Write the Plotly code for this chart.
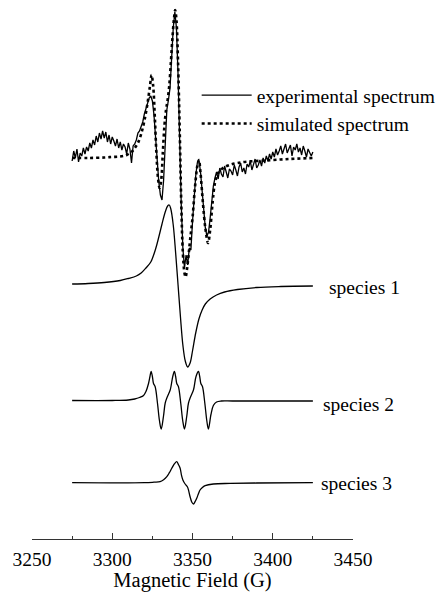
import plotly.graph_objects as go

# ---------------- data (arbitrary intensity units) ----------------
exp_field = list(range(3275, 3426))  # 1 G sampling
exp_signal = [
    -3, 7, 0, 9, -4, 5, 2, 10, 4, 11,
    7, 15, 10, 18, 13, 22, 16, 25, 19, 27,
    20, 26, 16, 23, 14, 21, 17, 12, 19, 10,
    16, 8, 14, 11, 4, 15, 9, -5, 12, 14,
    18, 25, 27, 32, 36, 44, 50, 56, 60, 62,
    57, 43, 20, -4, -24, -37, -42, -22, 13, 48,
    58, 70, 100, 130, 146, 130, 83, 13, -47, -90,
    -110, -97, -107, -90, -92, -64, -40, -18, -5, -2,
    -14, -34, -54, -70, -78, -74, -60, -42, -28, -20,
    -14, -21, -10, -16, -19, -8, -15, -20, -11, -13,
    -17, -7, -12, -18, -9, -5, -14, -10, -16, -6,
    -9, -3, -12, -6, -1, -10, -7, -2, -8, 0,
    -5, 2, -3, 4, -1, 6, 1, 9, 3, 7,
    12, 4, 10, 14, 5, 9, 13, 2, 11, 8,
    14, 6, 10, 3, 12, 7, 1, 9, 5, 2,
    6,
]

sim_field = [
    3275, 3285, 3295, 3300, 3305, 3309, 3312, 3314, 3316, 3318,
    3320, 3322, 3323.5, 3324.5, 3325.5, 3326.5, 3327.5, 3328.5, 3329.5, 3330.5,
    3331.5, 3332.5, 3333.5, 3334.5, 3335.5, 3336.5, 3337.5, 3338.5, 3339.2, 3340,
    3341, 3342, 3343, 3344, 3345, 3345.7, 3346.5, 3347.5, 3348.5, 3350,
    3351.5, 3353, 3354, 3355, 3356.5, 3358, 3359.7, 3361, 3362.5, 3364,
    3366, 3369, 3373, 3378, 3385, 3395, 3410, 3425,
]
sim_signal = [
    0, 0, 0.5, 1, 1.5, 3, 6, 10, 15, 24,
    37, 55, 72, 83, 72, 42, 5, -20, -30, -22,
    5, 32, 48, 58, 72, 95, 120, 140, 148, 138,
    95, 30, -45, -95, -115, -119, -112, -98, -82, -60,
    -30, -8, -2, -15, -45, -70, -85, -72, -45, -25,
    -15, -10, -7, -5, -3.5, -2.5, -1, 0,
]

sp1_field = [
    3275, 3285, 3295, 3305, 3310, 3315, 3318, 3321, 3324, 3327,
    3329, 3331, 3333, 3334.5, 3335.5, 3336.5, 3338, 3339.5, 3341, 3342.5,
    3344, 3345.5, 3347, 3348.5, 3350, 3352, 3354, 3356, 3358, 3361,
    3365, 3370, 3378, 3390, 3405, 3425,
]
sp1_signal = [
    1, 1.5, 2.5, 4.5, 6.5, 9, 12, 17, 23, 36,
    48, 61, 73, 79, 80, 76, 60, 32, 0, -32,
    -60, -76, -82, -78, -66, -48, -34, -25, -19, -14,
    -10, -7, -4.5, -2.5, -1.5, -1,
]

sp2_field = [
    3275, 3300, 3310, 3314, 3317, 3319.5, 3321, 3322.6, 3323.5, 3324.2,
    3325, 3325.7, 3326.7, 3328.2, 3329.4, 3330.5, 3331.9, 3333, 3334.4, 3336.1,
    3337.7, 3338.7, 3339.5, 3340.2, 3341.2, 3342.7, 3343.9, 3345, 3346.4, 3347.5,
    3348.9, 3350.6, 3352.2, 3353.7, 3354.5, 3355.2, 3356.2, 3357.7, 3358.9, 3359.9,
    3361.5, 3363, 3365, 3368, 3375, 3425,
]
sp2_signal = [
    0, 0, 0.5, 1.5, 3, 5, 9, 17, 24, 29,
    24, 17, 14, -3, -20, -28.5, -16, -2.5, 4, 10.5,
    24, 29, 24, 17, 14, -3, -20, -28.5, -16, -2.5,
    4, 10.5, 24, 29, 24, 17, 14, -3, -20, -28.5,
    -14, -5, -1.5, -0.5, -0.5, -0.5,
]

sp3_field = [
    3275, 3320, 3326, 3329.8, 3332, 3334, 3335.6, 3337.1, 3338.8, 3340.2,
    3341.3, 3342.3, 3343.2, 3344, 3345.4, 3346.8, 3347.6, 3348.5, 3349.6, 3350.6,
    3351.6, 3352.7, 3353.7, 3354.7, 3356, 3357.9, 3363, 3373.4, 3390, 3425,
]
sp3_signal = [
    0, 0, 0.5, 1, 3, 6, 10, 14.4, 19, 21,
    18, 14.4, 7, 2.7, -1.3, -4, -8, -14, -19.5, -21.3,
    -19, -15.3, -11, -7.3, -5, -3, -1.3, -0.7, -0.3, 0,
]

x_tickvals = [3250, 3300, 3350, 3400, 3450]
x_ticktext = ["3250", "3300", "3350", "3400", "3450"]
species_labels = ["species 1", "species 2", "species 3"]

# vertical stacking offsets of the traces
off_top, off_sp1, off_sp2, off_sp3 = 381, 254, 138.5, 56.3

FONT = "Liberation Serif"
FS = 19.5

fig = go.Figure()
fig.add_trace(go.Scatter(
    x=exp_field, y=[off_top + v for v in exp_signal], mode="lines",
    name="experimental spectrum", line=dict(color="black", width=1.3)))
fig.add_trace(go.Scatter(
    x=sim_field, y=[off_top + v for v in sim_signal], mode="lines",
    line_shape="spline", name="simulated spectrum",
    line=dict(color="black", width=2.6, dash="dot")))
for f, s, off in [(sp1_field, sp1_signal, off_sp1),
                  (sp2_field, sp2_signal, off_sp2),
                  (sp3_field, sp3_signal, off_sp3)]:
    fig.add_trace(go.Scatter(
        x=f, y=[off + v for v in s], mode="lines", line_shape="spline",
        showlegend=False, line=dict(color="black", width=1.3)))

# species labels
label_pos = [(0.918, off_sp1 - 2), (0.901, off_sp2 - 4), (0.895, off_sp3 - 1)]
for txt, (xp, yv) in zip(species_labels, label_pos):
    fig.add_annotation(x=xp, xref="paper", y=yv, yref="y", text=txt,
                       showarrow=False, xanchor="left", yanchor="middle",
                       font=dict(family=FONT, size=FS, color="black"))

fig.update_layout(
    width=436, height=592,
    margin=dict(l=32, r=83, t=0, b=53, autoexpand=False),
    paper_bgcolor="white", plot_bgcolor="white",
    font=dict(family=FONT, size=FS, color="black"),
    showlegend=True,
    legend=dict(x=0.513, y=0.797, xanchor="left", yanchor="middle",
                xref="paper", yref="paper",
                bgcolor="rgba(0,0,0,0)", borderwidth=0,
                font=dict(family=FONT, size=FS, color="black"),
                itemwidth=50, tracegroupgap=0),
    xaxis=dict(range=[3250, 3450], tickvals=x_tickvals, ticktext=x_ticktext,
               ticks="inside", ticklen=6, tickwidth=1, tickcolor="#333",
               showline=True, linecolor="#333", linewidth=1,
               showgrid=False, zeroline=False, automargin=False,
               ticklabelstandoff=3,
               minor=dict(dtick=25, tick0=3250, ticks="inside", ticklen=3,
                          tickwidth=1, tickcolor="#333", showgrid=False),
               tickfont=dict(family=FONT, size=FS, color="black"),
               title=dict(text="Magnetic Field (G)", standoff=10,
                          font=dict(family=FONT, size=20.5, color="black"))),
    yaxis=dict(range=[0, 539], visible=False, showgrid=False, zeroline=False),
)

fig.write_html("out.html", config={"displayModeBar": False},
               post_script="document.body.style.margin='0';document.body.style.padding='0';")
